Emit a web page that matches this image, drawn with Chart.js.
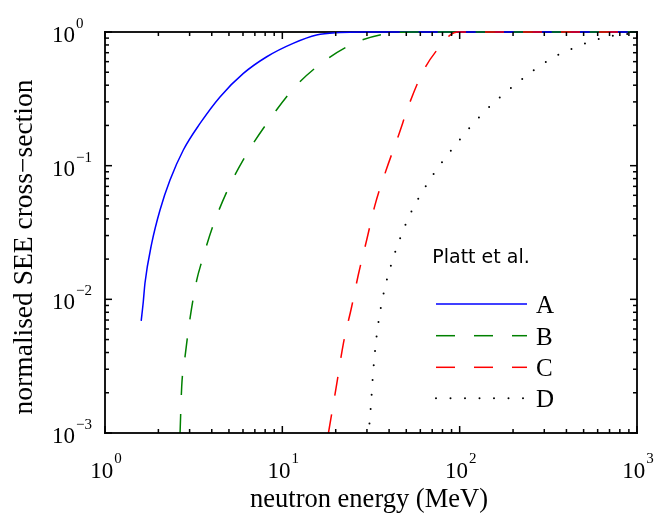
<!DOCTYPE html>
<html>
<head>
<meta charset="utf-8">
<script src="https://cdn.jsdelivr.net/npm/chart.js@4.4.1/dist/chart.umd.min.js"></script>
<style>
  html, body { margin: 0; padding: 0; background: #fff; }
  canvas { display: block; }
</style>
</head>
<body>
<canvas id="see" width="654" height="513"></canvas>
<script>
// Normalised SEE cross-section vs neutron energy (Platt et al. fits A-D)
const energyA = [1.60, 1.644, 1.68, 1.834, 2.043, 2.326, 2.765, 3.435, 4.45, 6.03, 8.17, 11.5, 15.6, 21.1, 28, 1000];
const sigmaA  = [0.0069, 0.0096, 0.0132, 0.0262, 0.0466, 0.078, 0.131, 0.207, 0.327, 0.49, 0.653, 0.822, 0.949, 0.99, 1.0, 1.0];

const energyB = [2.65, 2.707, 2.827, 3.016, 3.29, 3.51, 4.08, 4.96, 6.24, 8.17, 11.8, 17.0, 25.7, 40.5, 55, 1000];
const sigmaB  = [0.001, 0.00222, 0.00373, 0.0072, 0.0139, 0.0191, 0.036, 0.0676, 0.12, 0.207, 0.389, 0.598, 0.83, 0.98, 1.0, 1.0];

const energyC = [18.2, 20.3, 22.1, 24.6, 26.8, 29.9, 33.3, 38.5, 45.1, 52.5, 63, 77.5, 88.3, 97, 1000];
const sigmaC  = [0.001, 0.00236, 0.00469, 0.0088, 0.0152, 0.0278, 0.0507, 0.0927, 0.167, 0.30, 0.525, 0.784, 0.948, 1.0, 1.0];

const energyD = [31.0, 31.6, 32.4, 33.5, 35.1, 37.6, 41.4, 46.5, 53.2, 69.6, 96.3, 137.8, 210, 330.7, 467, 675, 1000];
const sigmaD  = [0.00118, 0.00162, 0.00268, 0.00442, 0.0072, 0.0117, 0.0188, 0.0294, 0.0448, 0.0826, 0.147, 0.253, 0.413, 0.635, 0.784, 0.92, 0.985];

const seriesNames = ['A', 'B', 'C', 'D'];
const xDecades = [0, 1, 2, 3];      // 10^0 .. 10^3
const yDecades = [-3, -2, -1, 0];   // 10^-3 .. 10^0
const minorSteps = [2, 3, 4, 5, 6, 7, 8, 9];
const legendTitle = 'Platt et al.';
const xTitle = 'neutron energy (MeV)';
const yTitle = 'normalised SEE cross\u2212section';

const SERIF = '"Liberation Serif", "Times New Roman", serif';
const SANS = '"DejaVu Sans", sans-serif';

function pairs(xs, ys) { return xs.map((x, i) => ({ x: x, y: ys[i] })); }

const styles = [
  { color: '#0000ff', dash: [], cap: 'butt', width: 1.5 },
  { color: '#008000', dash: [19, 19], cap: 'butt', width: 1.5 },
  { color: '#ff0000', dash: [19, 19], cap: 'butt', width: 1.5 },
  { color: '#000000', dash: [0, 14.5], cap: 'round', width: 2 }
];
const seriesData = [pairs(energyA, sigmaA), pairs(energyB, sigmaB), pairs(energyC, sigmaC), pairs(energyD, sigmaD)];

const datasets = seriesNames.map((name, i) => ({
  label: name,
  data: seriesData[i],
  borderColor: styles[i].color,
  borderWidth: styles[i].width,
  borderDash: styles[i].dash,
  borderCapStyle: styles[i].cap,
  pointRadius: 0,
  fill: false,
  cubicInterpolationMode: 'monotone',
  clip: 3,
  order: 4 - i
}));

// tick values: every decade plus its 2..9 multiples inside the range
function tickValues(decades) {
  const out = [];
  decades.forEach((d, k) => {
    const base = Math.pow(10, d);
    out.push({ v: base, major: true });
    if (k < decades.length - 1) minorSteps.forEach(m => out.push({ v: m * base, major: false }));
  });
  return out;
}

function superLabel(ctx, base, exp, x, y, align, supDy) {
  ctx.font = '23px ' + SERIF;
  const wb = ctx.measureText(base).width;
  ctx.font = '15px ' + SERIF;
  const we = ctx.measureText(exp).width;
  let left = x;
  if (align === 'center') left = x - (wb + we + 1) / 2;
  ctx.font = '23px ' + SERIF;
  ctx.textAlign = 'left';
  ctx.textBaseline = 'alphabetic';
  ctx.fillText(base, left, y);
  ctx.font = '15px ' + SERIF;
  ctx.fillText(exp, left + wb + 1, y + supDy);
}

const axesPlugin = {
  id: 'logFrame',
  beforeDatasetsDraw(chart) {
    const { ctx, chartArea: a, scales } = chart;
    const xs = scales.x, ys = scales.y;
    ctx.save();
    // top edge sits under the curves that saturate at 1
    ctx.fillStyle = '#000';
    ctx.fillRect(a.left - 0.9, a.top - 0.9, a.right - a.left + 1.8, 1.8);

    xDecades.forEach(d => {
      const px = xs.getPixelForValue(Math.pow(10, d));
      superLabel(ctx, '10', String(d), px + 1, a.bottom + 45, 'center', -15);
    });
    yDecades.forEach(d => {
      const py = ys.getPixelForValue(Math.pow(10, d));
      superLabel(ctx, '10', d < 0 ? '\u2212' + (-d) : String(d), 52, py + 10, 'left', -14);
    });

    ctx.font = '26.5px ' + SERIF;
    ctx.textAlign = 'center';
    ctx.textBaseline = 'alphabetic';
    ctx.fillText(xTitle, (a.left + a.right) / 2 - 2, 507);

    ctx.save();
    ctx.font = '27.5px ' + SERIF;
    ctx.translate(32, 247);
    ctx.rotate(-Math.PI / 2);
    ctx.fillText(yTitle, 0, 0);
    ctx.restore();
    ctx.restore();
  },
  afterDatasetsDraw(chart) {
    const { ctx, chartArea: a, scales } = chart;
    const xs = scales.x, ys = scales.y;
    ctx.save();
    ctx.fillStyle = '#000';
    // inward tick marks on all four sides
    tickValues(xDecades).forEach(t => {
      const px = xs.getPixelForValue(t.v);
      const len = t.major ? 7 : 4;
      ctx.fillRect(px - 0.75, a.bottom - len, 1.5, len);
      ctx.fillRect(px - 0.75, a.top, 1.5, len);
    });
    tickValues(yDecades).forEach(t => {
      const py = ys.getPixelForValue(t.v);
      const len = t.major ? 7 : 4;
      ctx.fillRect(a.left, py - 0.75, len, 1.5);
      ctx.fillRect(a.right - len, py - 0.75, len, 1.5);
    });
    // left, bottom and right edges
    ctx.fillRect(a.left - 0.9, a.top - 0.9, 1.8, a.bottom - a.top + 1.8);
    ctx.fillRect(a.left - 0.9, a.bottom - 0.9, a.right - a.left + 1.8, 1.8);
    ctx.fillRect(a.right - 0.9, a.top - 0.9, 1.8, a.bottom - a.top + 1.8);
    ctx.restore();
  },
  afterDraw(chart) {
    const { ctx } = chart;
    ctx.save();
    ctx.fillStyle = '#000';
    ctx.font = '19px ' + SANS;
    ctx.textAlign = 'center';
    ctx.textBaseline = 'alphabetic';
    ctx.fillText(legendTitle, 481, 263);

    const rowY = [304, 335.7, 367.3, 398.3];
    chart.data.datasets.forEach((ds, i) => {
      const y = rowY[i];
      ctx.beginPath();
      ctx.strokeStyle = ds.borderColor;
      ctx.lineWidth = ds.borderWidth;
      ctx.setLineDash(ds.borderDash);
      ctx.lineCap = ds.borderCapStyle;
      ctx.moveTo(436, y);
      ctx.lineTo(527, y);
      ctx.stroke();
      ctx.setLineDash([]);
      ctx.lineCap = 'butt';
      ctx.font = '25px ' + SERIF;
      ctx.textAlign = 'left';
      ctx.fillText(ds.label, 536, y + 9);
    });
    ctx.restore();
  }
};

new Chart(document.getElementById('see'), {
  type: 'line',
  data: { datasets: datasets },
  options: {
    responsive: false,
    animation: false,
    layout: { padding: { left: 105, top: 32, right: 17, bottom: 80 } },
    plugins: { legend: { display: false }, tooltip: { enabled: false } },
    scales: {
      x: { type: 'logarithmic', min: 1, max: 1000, display: false },
      y: { type: 'logarithmic', min: 0.001, max: 1, display: false }
    }
  },
  plugins: [axesPlugin]
});
</script>
</body>
</html>
